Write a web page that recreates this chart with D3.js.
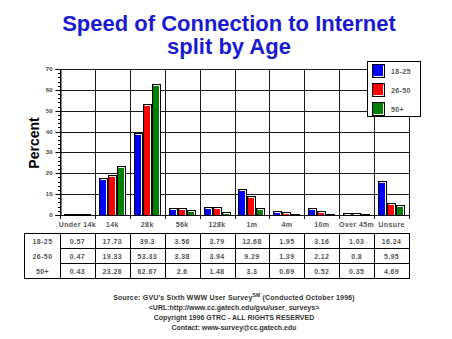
<!DOCTYPE html>
<html>
<head>
<meta charset="utf-8">
<script src="https://cdn.jsdelivr.net/npm/d3@7"></script>
<style>
  html, body { margin: 0; padding: 0; background: #fff; }
  svg { display: block; }
  text { font-family: "Liberation Sans", Arial, sans-serif; }
</style>
</head>
<body>
<svg id="chart" width="452" height="339"></svg>
<script>
// Connection speed categories and percentages by age group
const categories = ["Under 14k", "14k", "28k", "56k", "128k", "1m", "4m", "10m", "Over 45m", "Unsure"];
const seriesNames = ["18-25", "26-50", "50+"];
const age18to25 = [0.57, 17.73, 39.3, 3.56, 3.79, 12.68, 1.95, 3.16, 1.03, 16.24];
const age26to50 = [0.47, 19.33, 53.33, 3.38, 3.94, 9.29, 1.39, 2.12, 0.8, 5.95];
const age50plus = [0.43, 23.26, 62.67, 2.6, 1.48, 3.3, 0.69, 0.52, 0.35, 4.69];
const seriesColors = ["#0000ff", "#ff0000", "#008000"];
const yTicks = [0, 10, 20, 30, 40, 50, 60, 70];

const series = [age18to25, age26to50, age50plus];

const svg = d3.select("#chart");
const plot = { left: 60, right: 409, top: 69, bottom: 215 };

const xBand = d3.scaleBand().domain(categories).range([plot.left, plot.right]).padding(0);
const xEdge = d3.scaleLinear().domain([0, categories.length]).range([plot.left, plot.right]);
const yScale = d3.scaleLinear().domain([0, 70]).range([plot.bottom, plot.top]);
const crisp = v => Math.round(v) + 0.5;
const smallText = sel => sel.style("font-size", "7px").style("font-weight", "bold")
  .style("letter-spacing", "0.4px").attr("fill", "#555");

// Bar geometry
const barW = 8, barStep = 9;
const barX = (si, i) => Math.round(xBand(categories[i]) + xBand.bandwidth() / 2 - 13.5 + si * barStep) + 0.5;
const barTop = d => crisp(yScale(d));
const barBase = crisp(yScale(0));

// Grid: horizontal lines at every 10% and vertical lines between categories
const gridLayer = svg.append("g");
gridLayer.append("g").selectAll("line").data(yTicks).join("line")
  .attr("x1", plot.left).attr("x2", plot.right + 1)
  .attr("y1", d => crisp(yScale(d))).attr("y2", d => crisp(yScale(d)))
  .attr("stroke", "#1a1a1a").attr("stroke-width", 1);
gridLayer.append("g").selectAll("line").data(d3.range(0, categories.length + 1)).join("line")
  .attr("x1", d => crisp(xEdge(d))).attr("x2", d => crisp(xEdge(d)))
  .attr("y1", plot.top).attr("y2", plot.bottom + 4)
  .attr("stroke", "#1a1a1a").attr("stroke-width", 1);

// Bars: black outline with a thin white highlight along the top and right
const barLayer = svg.append("g");
series.forEach((vals, si) => {
  const g = barLayer.append("g");
  g.selectAll("rect").data(vals).join("rect")
    .attr("x", (d, i) => barX(si, i))
    .attr("y", d => barTop(d))
    .attr("width", barW)
    .attr("height", d => barBase - barTop(d))
    .attr("fill", seriesColors[si])
    .attr("stroke", "#000");
  g.selectAll("path").data(vals).join("path")
    .attr("d", (d, i) => barBase - barTop(d) >= 2
      ? `M${barX(si, i) + 1},${barTop(d) + 1}H${barX(si, i) + barW - 1}V${barBase - 0.5}` : "M0,0")
    .attr("fill", "none").attr("stroke", "#fff")
    .attr("stroke-opacity", d => barBase - barTop(d) >= 2 ? 1 : 0);
});

// Y axis: minor ticks every 2, labelled major ticks every 10
svg.append("g").attr("transform", `translate(${plot.left + 0.5},0)`)
  .call(d3.axisLeft(yScale).tickValues(d3.range(0, 71, 2)).tickSize(2.5).tickFormat(() => ""))
  .call(g => g.select(".domain").remove())
  .call(g => g.selectAll(".tick").attr("transform", d => `translate(0,${crisp(yScale(d))})`))
  .call(g => g.selectAll("line").attr("stroke", "#000"));
svg.append("g").attr("transform", `translate(${plot.left + 0.5},0)`)
  .call(d3.axisLeft(yScale).tickValues(yTicks).tickSize(5).tickPadding(3).tickFormat(d3.format("d")))
  .call(g => g.select(".domain").attr("stroke", "#000"))
  .call(g => g.selectAll(".tick").attr("transform", d => `translate(0,${crisp(yScale(d))})`))
  .call(g => g.selectAll("line").attr("stroke", "#000"))
  .call(g => g.selectAll("text").style("font-size", "6px").style("font-weight", "bold").attr("fill", "#444"));

// Title
const title = svg.append("text")
  .attr("text-anchor", "middle")
  .attr("fill", "#1a1ad0")
  .style("font-size", "22px").style("font-weight", "bold");
title.append("tspan").attr("x", 229).attr("y", 31).text("Speed of Connection to Internet");
title.append("tspan").attr("x", 229).attr("y", 54).text("split by Age");

// Y axis title
svg.append("text")
  .attr("transform", "translate(39,143) rotate(-90)")
  .attr("text-anchor", "middle")
  .style("font-size", "14px").style("font-weight", "bold")
  .attr("fill", "#000")
  .text("Percent");

// Category labels
svg.append("g").selectAll("text").data(categories).join("text")
  .attr("x", d => xBand(d) + xBand.bandwidth() / 2)
  .attr("y", 227)
  .attr("text-anchor", "middle")
  .call(smallText)
  .text(d => d);

// Data table
const table = { left: 24.5, labelRight: 60.5, top: 233.5, rowH: 15 };
const tg = svg.append("g");
tg.append("rect")
  .attr("x", table.left).attr("y", table.top)
  .attr("width", plot.right + 0.5 - table.left).attr("height", table.rowH * 3)
  .attr("fill", "none").attr("stroke", "#000");
tg.selectAll("line.v").data(d3.range(0, categories.length)).join("line")
  .attr("class", "v")
  .attr("x1", d => crisp(xEdge(d))).attr("x2", d => crisp(xEdge(d)))
  .attr("y1", table.top).attr("y2", table.top + table.rowH * 3)
  .attr("stroke", "#000");
tg.selectAll("line.h").data([1, 2]).join("line")
  .attr("class", "h")
  .attr("x1", table.labelRight).attr("x2", plot.right + 0.5)
  .attr("y1", d => table.top + d * table.rowH).attr("y2", d => table.top + d * table.rowH)
  .attr("stroke", "#000");
tg.selectAll("text.row").data(seriesNames).join("text")
  .attr("class", "row")
  .attr("x", (table.left + table.labelRight) / 2)
  .attr("y", (d, i) => table.top + i * table.rowH + 10)
  .attr("text-anchor", "middle")
  .call(smallText)
  .text(d => d);
series.forEach((vals, si) => {
  tg.append("g").selectAll("text").data(vals).join("text")
    .attr("x", (d, i) => xBand(categories[i]) + xBand.bandwidth() / 2)
    .attr("y", table.top + si * table.rowH + 10)
    .attr("text-anchor", "middle")
    .call(smallText)
    .text(d => String(d));
});

// Footer
const footer = svg.append("g").attr("fill", "#333")
  .style("font-size", "7px").style("font-weight", "bold");
const src = footer.append("text").attr("x", 234).attr("y", 300).attr("text-anchor", "middle")
  .style("letter-spacing", "0.2px");
src.append("tspan").text("Source: GVU's Sixth WWW User Survey");
src.append("tspan").attr("dy", -3).style("font-size", "5px").text("SM");
src.append("tspan").attr("dy", 3).text("  (Conducted October 1996)");
footer.append("text").attr("x", 234).attr("y", 310).attr("text-anchor", "middle")
  .text("<URL:http://www.cc.gatech.edu/gvu/user_surveys>");
footer.append("text").attr("x", 234).attr("y", 320).attr("text-anchor", "middle")
  .text("Copyright 1996 GTRC -  ALL RIGHTS RESERVED");
footer.append("text").attr("x", 234).attr("y", 330).attr("text-anchor", "middle")
  .text("Contact: www-survey@cc.gatech.edu");

// Legend
const lg = svg.append("g");
lg.append("rect").attr("x", 367.5).attr("y", 61.5).attr("width", 53).attr("height", 55)
  .attr("fill", "#fff").attr("stroke", "#000");
seriesNames.forEach((name, i) => {
  const sy = 64.5 + i * 19;
  lg.append("rect").attr("x", 372.5).attr("y", sy).attr("width", 12).attr("height", 13)
    .attr("fill", seriesColors[i]).attr("stroke", "#000");
  lg.append("path").attr("d", `M${383.5},${sy + 1}V${sy + 12}H${373.5}`)
    .attr("fill", "none").attr("stroke", "#fff");
  lg.append("text").attr("x", 391).attr("y", sy + 9.5)
    .call(smallText).text(name);
});
</script>
</body>
</html>
